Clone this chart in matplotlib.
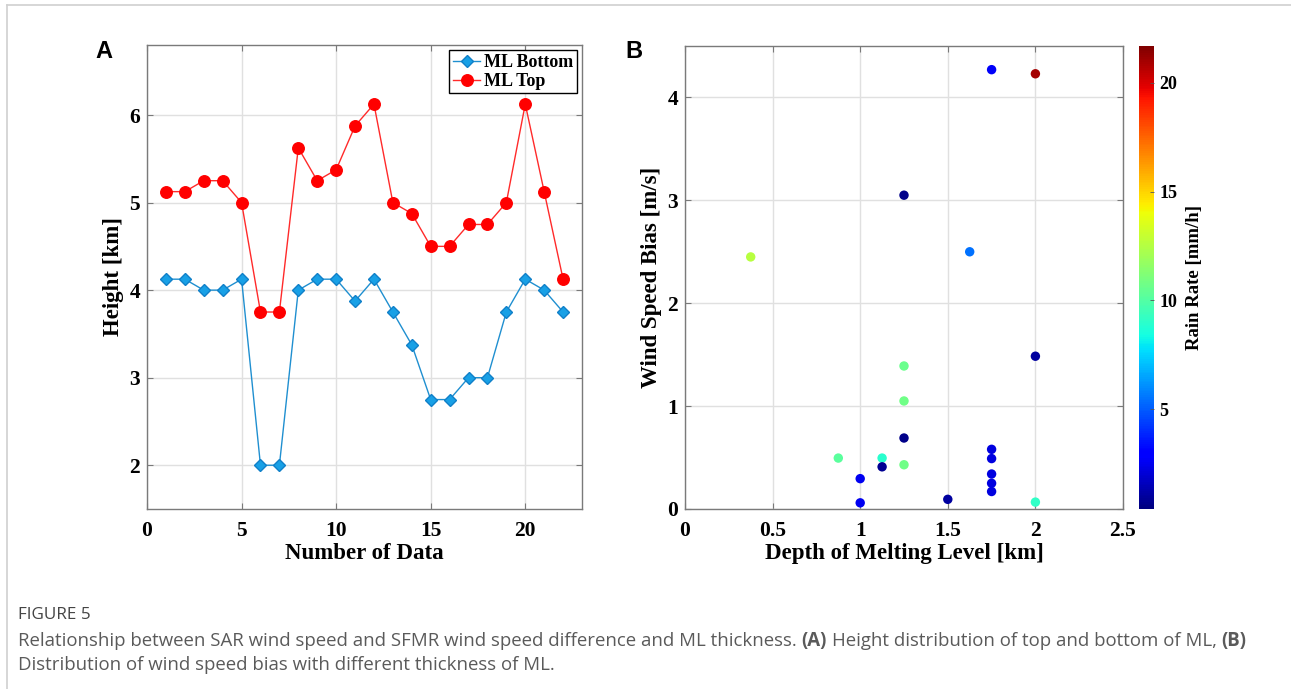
import matplotlib
matplotlib.use("Agg")
import matplotlib.pyplot as plt
import numpy as np

W, H = 1291, 689

# panel A: melting layer heights per case
data_index = np.arange(1, 23)
ml_bottom = [4.125, 4.125, 4.0, 4.0, 4.125, 2.0, 2.0, 4.0, 4.125, 4.125, 3.875,
             4.125, 3.75, 3.375, 2.75, 2.75, 3.0, 3.0, 3.75, 4.125, 4.0, 3.75]
ml_top = [5.125, 5.125, 5.25, 5.25, 5.0, 3.75, 3.75, 5.625, 5.25, 5.375, 5.875,
          6.125, 5.0, 4.875, 4.5, 4.5, 4.75, 4.75, 5.0, 6.125, 5.125, 4.125]

# panel B: ML depth vs wind speed bias, coloured by rain rate
ml_depth = [1.75, 2.0, 1.25, 1.625, 0.375, 2.0, 1.25, 1.25, 1.25, 0.875, 1.125,
            1.125, 1.25, 1.0, 1.0, 1.5, 1.75, 1.75, 1.75, 1.75, 1.75, 2.0]
wind_bias = [4.27, 4.23, 3.05, 2.50, 2.45, 1.485, 1.39, 1.05, 0.69, 0.495, 0.495,
             0.41, 0.43, 0.295, 0.06, 0.094, 0.58, 0.49, 0.34, 0.25, 0.17, 0.067]
rain_rate = [2.7, 21.0, 0.6, 5.4, 12.6, 1.0, 10.6, 10.8, 0.6, 10.2, 8.9,
             0.8, 10.8, 2.5, 2.5, 1.0, 2.2, 2.2, 2.2, 2.2, 2.2, 9.1]

SERIF = "Liberation Serif"
SPINE = "#7a7a7a"
plt.rcParams["font.family"] = SERIF
plt.rcParams["font.weight"] = "bold"
plt.rcParams["axes.labelweight"] = "bold"


def px_rect(left, top, right, bottom):
    return [left / W, 1 - bottom / H, (right - left) / W, (bottom - top) / H]


def style_axes(ax):
    for s in ax.spines.values():
        s.set_color(SPINE)
        s.set_linewidth(1.0)
    ax.tick_params(direction="in", top=True, right=True, length=4, width=0.8,
                   color=SPINE, labelsize=15.5)
    ax.tick_params(axis="x", pad=9)
    ax.tick_params(axis="y", pad=5)
    ax.grid(color="#e0e0e0", linewidth=1.0)
    ax.set_axisbelow(True)


fig = plt.figure(figsize=(W / 100, H / 100), dpi=100)

# ---- panel A
ax1 = fig.add_axes(px_rect(147, 45, 582, 509))
ax1.plot(data_index, ml_bottom, color="#1f8fd0", lw=1.0, marker="D", ms=6.5,
         mfc="#18a0e6", mec="#1080c8", label="ML Bottom")
ax1.plot(data_index, ml_top, color="#ff2a2a", lw=1.0, marker="o", ms=8.3,
         mfc="#ff0000", mec="#ff0000", label="ML Top")
ax1.set_xlim(0, 23)
ax1.set_ylim(1.5, 6.8)
ax1.set_xticks([0, 5, 10, 15, 20])
ax1.set_yticks([2, 3, 4, 5, 6])
style_axes(ax1)
ax1.set_xlabel("Number of Data", fontsize=16.5, labelpad=1)
ax1.set_ylabel("Height [km]", fontsize=16.5, labelpad=4)
leg = ax1.legend(loc="upper right", fontsize=13, fancybox=False, framealpha=1,
                 edgecolor="black", borderaxespad=0.3, handlelength=1.5,
                 handletextpad=0.2, borderpad=0.2, labelspacing=0.1)
leg.get_frame().set_linewidth(1.0)

# ---- panel B
ax2 = fig.add_axes(px_rect(685, 46, 1123, 509))
sc = ax2.scatter(ml_depth, wind_bias, c=rain_rate, cmap="jet", vmin=0.4, vmax=21.7,
                 s=46, edgecolors="none", zorder=3)
ax2.set_xlim(0, 2.5)
ax2.set_ylim(0, 4.5)
ax2.set_xticks([0, 0.5, 1, 1.5, 2, 2.5])
ax2.set_xticklabels(["0", "0.5", "1", "1.5", "2", "2.5"])
ax2.set_yticks([0, 1, 2, 3, 4])
style_axes(ax2)
ax2.set_xlabel("Depth of Melting Level [km]", fontsize=16.5, labelpad=1)
ax2.set_ylabel("Wind Speed Bias [m/s]", fontsize=16.5, labelpad=4)

cax = fig.add_axes(px_rect(1139, 46, 1154, 509))
cb = fig.colorbar(sc, cax=cax)
cb.outline.set_visible(False)
cb.set_ticks([5, 10, 15, 20])
cax.tick_params(direction="in", length=3, width=0.6, color="#555555",
                labelsize=13, pad=4)
cb.set_label("Rain Rate [mm/h]", fontsize=13.5, labelpad=6)

# panel letters
fig.text(95 / W, 1 - 51 / H, "A", family="Liberation Sans", fontweight="bold",
         fontsize=17, va="center", ha="left")
fig.text(625 / W, 1 - 51 / H, "B", family="Liberation Sans", fontweight="bold",
         fontsize=17, va="center", ha="left")

# thin page border (top and left)
fig.add_artist(plt.Line2D([7 / W, 1], [1 - 5 / H, 1 - 5 / H], color="#d0d0d0", lw=1.2))
fig.add_artist(plt.Line2D([7 / W, 7 / W], [0, 1 - 5 / H], color="#d0d0d0", lw=1.2))

# caption
CAP_FONT = "Open Sans"
CAP_SIZE = 13.45
renderer = fig.canvas.get_renderer()


def text_width(s, weight):
    t = fig.text(0, 0, s, family=CAP_FONT, fontsize=CAP_SIZE, fontweight=weight)
    w = t.get_window_extent(renderer=renderer).width
    t.remove()
    return w


space_w = text_width("a a", "normal") - text_width("aa", "normal")


def rich_line(x_px, y_px, parts):
    x = x_px
    for s, weight in parts:
        t = fig.text(x / W, 1 - y_px / H, s, family=CAP_FONT, fontsize=CAP_SIZE,
                     fontweight=weight, color="#5a5a5a", va="center", ha="left")
        x += t.get_window_extent(renderer=renderer).width + space_w


fig.text(18 / W, 1 - 615 / H, "FIGURE 5", family=CAP_FONT, fontsize=12.3,
         fontweight="normal", color="#444444", va="center", ha="left")
rich_line(18, 641, [
    ("Relationship between SAR wind speed and SFMR wind speed difference and ML thickness.", "normal"),
    ("(A)", "bold"),
    ("Height distribution of top and bottom of ML,", "normal"),
    ("(B)", "bold"),
])
rich_line(18, 665, [("Distribution of wind speed bias with different thickness of ML.", "normal")])

fig.savefig("out.png", dpi=100)
plt.close(fig)
